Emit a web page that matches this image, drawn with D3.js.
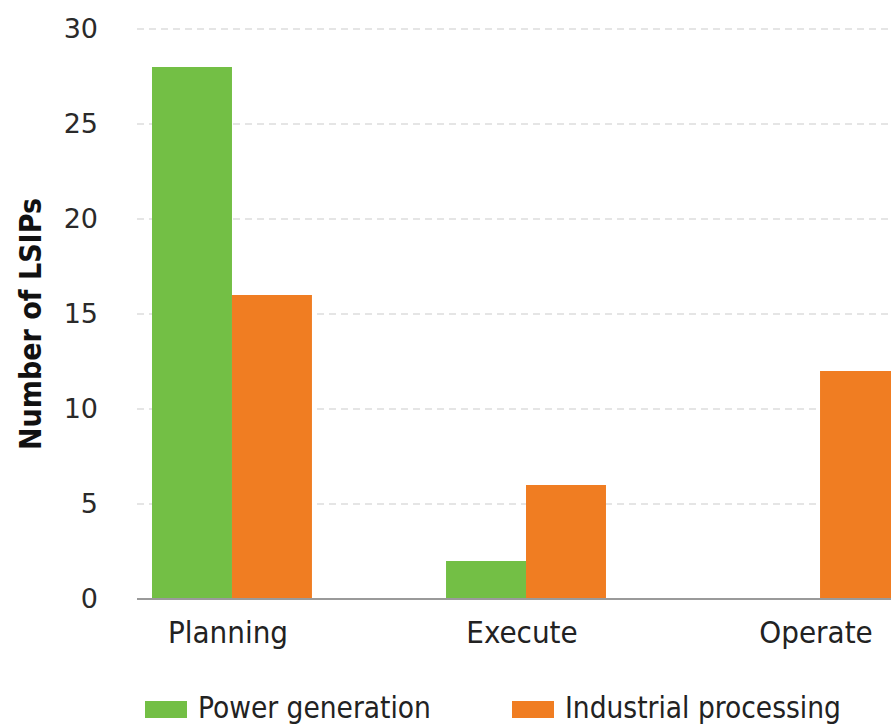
<!DOCTYPE html>
<html>
<head>
<meta charset="utf-8">
<script src="https://cdn.jsdelivr.net/npm/d3@7"></script>
<style>
  html, body { margin: 0; padding: 0; background: #fff; }
  svg { display: block; }
  text { font-family: "DejaVu Sans Condensed", "Liberation Sans Narrow", sans-serif; }
</style>
</head>
<body>
<div id="chart"></div>
<script>
// Project stages and the number of LSIPs in each, split by sector
const stages = ["Planning", "Execute", "Operate"];
const seriesNames = ["Power generation", "Industrial processing"];
const powerGeneration = [28, 2, 0];
const industrialProcessing = [16, 6, 12];
const yTicks = [0, 5, 10, 15, 20, 25, 30];
const seriesColors = ["#73bf45", "#f07d22"];

const W = 891, H = 724;
const svg = d3.select("#chart").append("svg")
  .attr("width", W).attr("height", H);

const series = [powerGeneration, industrialProcessing];

const y = d3.scaleLinear().domain([0, 30]).range([599, 29]);
const x = d3.scaleBand().domain(stages)
  .range([137, 915]).paddingInner(0.456).paddingOuter(0.051);
const xs = d3.scaleBand().domain(seriesNames).range([0, x.bandwidth()]);

// dashed gridlines
svg.append("g").selectAll("line")
  .data(yTicks.filter(d => d > 0))
  .join("line")
  .attr("x1", 137).attr("x2", W)
  .attr("y1", d => y(d)).attr("y2", d => y(d))
  .attr("stroke", "#cccccc").attr("stroke-width", 1.2)
  .attr("stroke-dasharray", "7,5");

// y tick labels
const yAxis = d3.axisLeft(y).tickValues(yTicks).tickSize(0).tickPadding(0);
const gy = svg.append("g").attr("transform", "translate(98,0)").call(yAxis);
gy.select(".domain").remove();
gy.selectAll("text")
  .attr("fill", "#2a2a2a")
  .style("font-size", "27px")
  .style("font-family", "\"DejaVu Sans\", sans-serif");

// bars
const groups = svg.append("g").selectAll("g")
  .data(stages)
  .join("g")
  .attr("transform", d => `translate(${x(d)},0)`);

groups.selectAll("rect")
  .data((d, i) => seriesNames.map((s, j) => ({ s, v: series[j][i], c: seriesColors[j] })))
  .join("rect")
  .attr("x", d => xs(d.s))
  .attr("width", xs.bandwidth())
  .attr("y", d => y(d.v))
  .attr("height", d => y(0) - y(d.v))
  .attr("fill", d => d.c);

// baseline
svg.append("line")
  .attr("x1", 137).attr("x2", W)
  .attr("y1", y(0)).attr("y2", y(0))
  .attr("stroke", "#9a9a9a").attr("stroke-width", 2);

// category labels
const xAxis = d3.axisBottom(x).tickSize(0).tickPadding(0);
const gx = svg.append("g").attr("transform", `translate(-4,${y(0) + 44})`).call(xAxis);
gx.select(".domain").remove();
gx.selectAll("text")
  .attr("dy", 0)
  .attr("fill", "#222")
  .style("font-size", "31px");

// y axis title
svg.append("text")
  .attr("transform", "translate(41,324) rotate(-90)")
  .attr("text-anchor", "middle")
  .attr("font-size", 30).attr("font-weight", "bold").attr("fill", "#111")
  .text("Number of LSIPs");

// legend
const legendX = [145, 512];
const legend = svg.append("g").selectAll("g")
  .data(seriesNames)
  .join("g")
  .attr("transform", (d, i) => `translate(${legendX[i]},701)`);
legend.append("rect")
  .attr("width", 42).attr("height", 17)
  .attr("fill", (d, i) => seriesColors[i]);
legend.append("text")
  .attr("x", 53).attr("y", 17)
  .attr("font-size", 29.5).attr("fill", "#222")
  .text(d => d);
</script>
</body>
</html>
